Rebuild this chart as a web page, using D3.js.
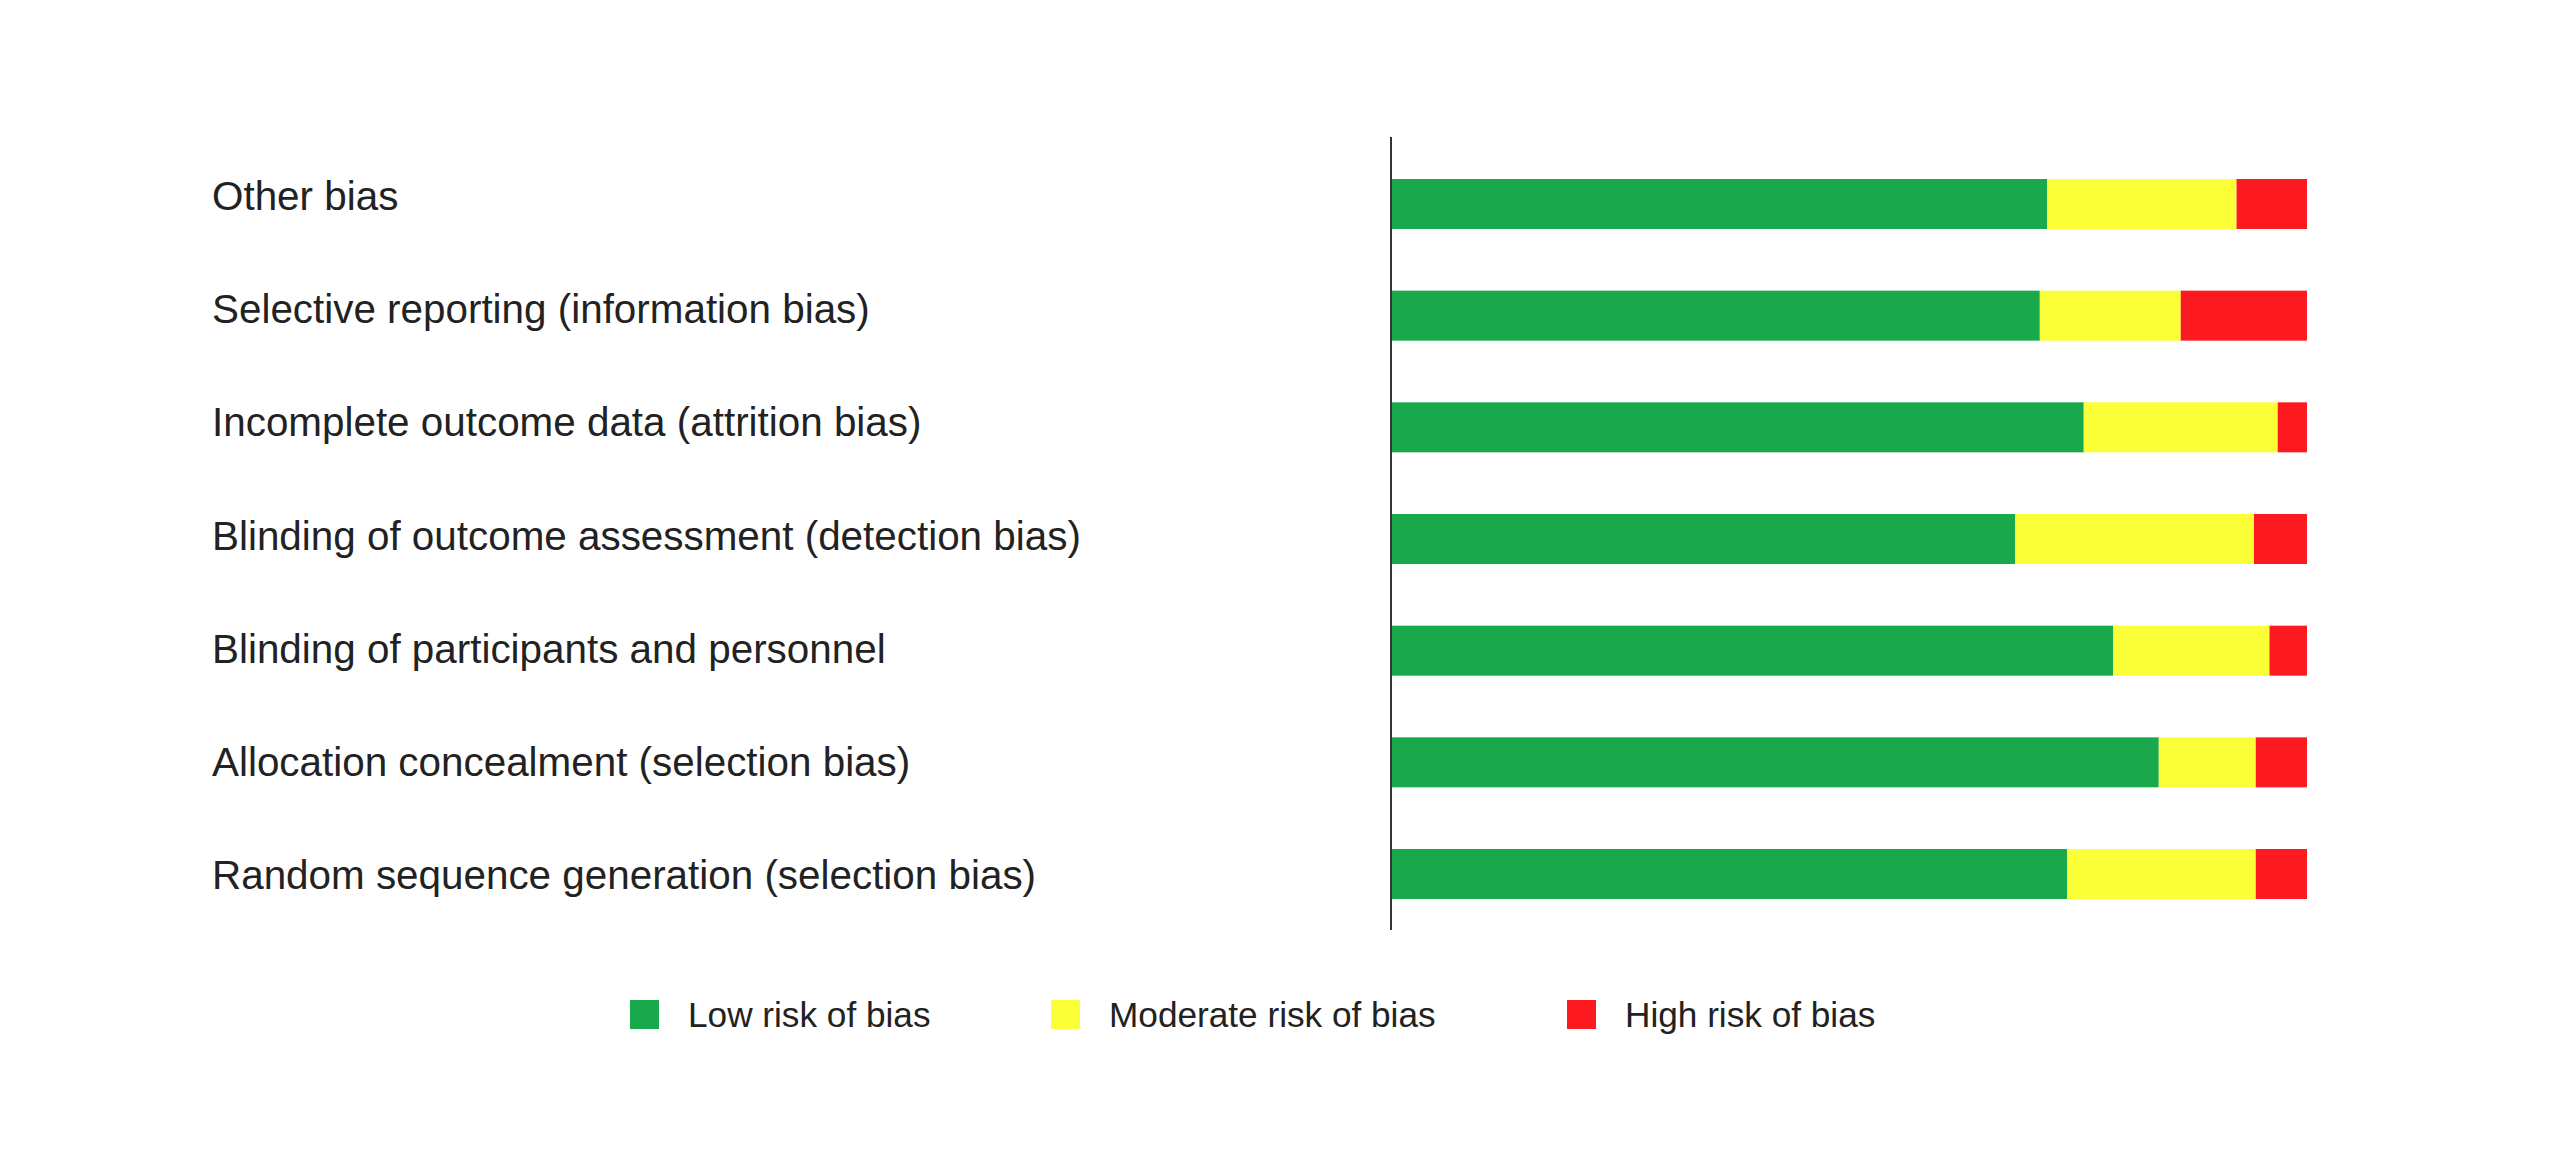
<!DOCTYPE html>
<html>
<head>
<meta charset="utf-8">
<script src="https://cdn.jsdelivr.net/npm/d3@7"></script>
<style>
  body { margin: 0; background: #fff; }
  text { font-family: "Liberation Sans", Arial, Helvetica, sans-serif; fill: #222; }
</style>
</head>
<body>
<svg id="chart" width="2560" height="1160"></svg>
<script>
// domains, top to bottom
const categories = [
    "Other bias",
    "Selective reporting (information bias)",
    "Incomplete outcome data (attrition bias)",
    "Blinding of outcome assessment (detection bias)",
    "Blinding of participants and personnel",
    "Allocation concealment (selection bias)",
    "Random sequence generation (selection bias)"
];

// percentage of studies per judgement
const lowRisk      = [71.6, 70.8, 75.6, 68.1, 78.8, 83.8, 73.8];
const moderateRisk = [20.7, 15.4, 21.2, 26.1, 17.1, 10.6, 20.6];
const highRisk     = [7.7, 13.8, 3.2, 5.8, 4.1, 5.6, 5.6];

const seriesNames = ["Low risk of bias", "Moderate risk of bias", "High risk of bias"];
const seriesKeys = ["low", "moderate", "high"];
const colors = ["#1aa84c", "#fbff38", "#fc1a20"];

const rows = categories.map((c, i) => ({
    name: c, low: lowRisk[i], moderate: moderateRisk[i], high: highRisk[i]
}));

const svg = d3.select("#chart");

const x = d3.scaleLinear().domain([0, 100]).range([1392, 2307]);
// posição das barras e dos rótulos (os rótulos têm espaçamento um pouco maior)
const y = d3.scalePoint().domain(categories).range([204, 874]);
const yLabel = d3.scalePoint().domain(categories).range([196, 875]);
const barH = 50;

const color = d3.scaleOrdinal().domain(seriesKeys).range(colors);

const stacked = d3.stack().keys(seriesKeys)(rows);

// barras empilhadas
svg.append("g")
    .selectAll("g")
    .data(stacked)
    .join("g")
    .attr("fill", d => color(d.key))
    .selectAll("rect")
    .data(d => d)
    .join("rect")
    .attr("x", d => x(d[0]))
    .attr("y", d => y(d.data.name) - barH / 2)
    .attr("width", d => x(d[1]) - x(d[0]))
    .attr("height", barH);

// eixo vertical
svg.append("line")
    .attr("x1", 1391).attr("x2", 1391)
    .attr("y1", 137).attr("y2", 930)
    .attr("stroke", "#333")
    .attr("stroke-width", 2);

// rótulos das categorias
svg.append("g")
    .selectAll("text")
    .data(categories)
    .join("text")
    .attr("x", 212)
    .attr("y", d => yLabel(d) + 14)
    .attr("font-size", 40.4)
    .text(d => d);

// legenda
const legendX = [630, 1051, 1567];
const legend = svg.append("g")
    .selectAll("g")
    .data(seriesKeys)
    .join("g")
    .attr("transform", (d, i) => `translate(${legendX[i]},1000)`);

legend.append("rect")
    .attr("width", 29)
    .attr("height", 29)
    .attr("fill", d => color(d));

legend.append("text")
    .attr("x", 58)
    .attr("y", 27)
    .attr("font-size", 35.2)
    .text((d, i) => seriesNames[i]);
</script>
</body>
</html>
